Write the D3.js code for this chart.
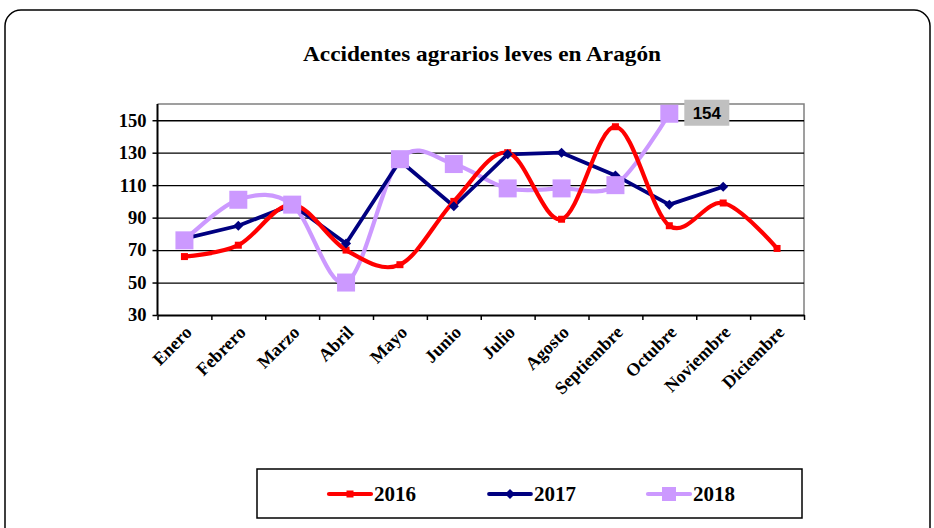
<!DOCTYPE html>
<html>
<head>
<meta charset="utf-8">
<script src="https://cdn.jsdelivr.net/npm/d3@7/dist/d3.min.js"></script>
<style>
  html, body { margin: 0; padding: 0; background: #fff; }
  svg { display: block; }
</style>
</head>
<body>
<svg id="chart" width="934" height="528"></svg>
<script>
// Monthly light agricultural accidents in Aragón, 2016–2018
const months = ["Enero", "Febrero", "Marzo", "Abril", "Mayo", "Junio", "Julio",
                "Agosto", "Septiembre", "Octubre", "Noviembre", "Diciembre"];
const values2016 = [66, 73, 98, 70, 61, 100, 130, 89, 146, 85, 99, 71];
const values2017 = [77, 85, 98, 74, 125, 97, 129, 130, 116, 98, 109, null];
const values2018 = [76, 101, 98, 50, 126, 123, 108, 108, 110, 154, null, null];
const yTicks = [30, 50, 70, 90, 110, 130, 150];
const titleText = "Accidentes agrarios leves en Aragón";

const series = [
  { name: "2016", values: values2016, color: "#FF0000", width: 4.2, smooth: true,  marker: "square", size: 7 },
  { name: "2017", values: values2017, color: "#000080", width: 3.8, smooth: false, marker: "diamond", size: 10 },
  { name: "2018", values: values2018, color: "#CC99FF", width: 4.2, smooth: true,  marker: "square", size: 18 }
];

const svg = d3.select("#chart");
const serif = "'Liberation Serif', 'Times New Roman', serif";
const sans = "'Liberation Sans', Arial, sans-serif";

// Outer rounded frame
svg.append("rect")
  .attr("x", 5).attr("y", 10).attr("width", 925).attr("height", 540)
  .attr("rx", 16).attr("ry", 16)
  .attr("fill", "#fff").attr("stroke", "#000").attr("stroke-width", 1.5);

// Title
svg.append("text")
  .attr("x", 482).attr("y", 61)
  .attr("text-anchor", "middle")
  .attr("font-family", serif).attr("font-weight", "bold").attr("font-size", 21)
  .attr("textLength", 358).attr("lengthAdjust", "spacingAndGlyphs")
  .text(titleText);

const plot = { left: 157.5, right: 804, top: 104, bottom: 315 };

const x = d3.scaleBand().domain(months).range([plot.left, plot.right]).padding(0);
const xEdge = d3.scaleLinear().domain([0, months.length]).range([plot.left, plot.right]);
const y = d3.scaleLinear().domain([30, 160]).range([plot.bottom, plot.top]);
const cx = m => x(m) + x.bandwidth() / 2;

// Plot area frame (top and right in grey)
svg.append("path")
  .attr("d", `M${plot.left},${plot.top}H${plot.right}V${plot.bottom}`)
  .attr("fill", "none").attr("stroke", "#808080").attr("stroke-width", 1.5);

// Horizontal gridlines
const grid = svg.append("g").attr("transform", `translate(${plot.left},0)`)
  .call(d3.axisLeft(y).tickValues(yTicks.filter(t => t > 30))
    .tickSize(-(plot.right - plot.left)).tickFormat(""));
grid.select(".domain").remove();
grid.selectAll(".tick line").attr("stroke", "#000").attr("stroke-width", 1.3);

// Y axis
const yAxis = svg.append("g").attr("transform", `translate(${plot.left},0)`)
  .call(d3.axisLeft(y).tickValues(yTicks).tickSize(5).tickPadding(6).tickSizeOuter(0));
yAxis.select(".domain").attr("stroke", "#000").attr("stroke-width", 2)
  .attr("d", `M0,${plot.top}V${plot.bottom}`);
yAxis.selectAll(".tick line").attr("stroke", "#000").attr("stroke-width", 1.5);
yAxis.selectAll(".tick text")
  .attr("font-family", serif).attr("font-weight", "bold").attr("font-size", 18.5)
  .attr("fill", "#000");

// X axis: ticks at category boundaries
const xAxis = svg.append("g").attr("transform", `translate(0,${plot.bottom})`)
  .call(d3.axisBottom(xEdge).tickValues(d3.range(0, months.length + 1))
    .tickSize(5).tickSizeOuter(0).tickFormat(""));
xAxis.select(".domain").attr("stroke", "#000").attr("stroke-width", 2);
xAxis.selectAll(".tick line").attr("stroke", "#000").attr("stroke-width", 1.5);

// Category labels, rotated
svg.append("g").selectAll("text").data(months).join("text")
  .attr("transform", d => `translate(${cx(d) + 4},${plot.bottom + 14}) rotate(-45)`)
  .attr("text-anchor", "end")
  .attr("dy", "0.35em")
  .attr("font-family", serif).attr("font-weight", "bold").attr("font-size", 18)
  .text(d => d);

// Series lines (drawn last series first so earlier series sit on top)
const lineFor = s => d3.line()
  .defined(d => d.v != null)
  .x(d => cx(d.m))
  .y(d => y(d.v))
  .curve(s.smooth ? d3.curveCatmullRom.alpha(0) : d3.curveLinear);

const points = s => months.map((m, i) => ({ m, v: s.values[i] })).filter(d => d.v != null);

const linesG = svg.append("g");
[...series].reverse().forEach(s => {
  linesG.append("path")
    .datum(points(s))
    .attr("d", lineFor(s))
    .attr("fill", "none")
    .attr("stroke", s.color)
    .attr("stroke-width", s.width)
    .attr("stroke-linejoin", "round");
});

// Markers
function markerPath(type, size) {
  const h = size / 2;
  if (type === "diamond") return `M0,${-h}L${h},0L0,${h}L${-h},0Z`;
  return `M${-h},${-h}H${h}V${h}H${-h}Z`;
}
const markersG = svg.append("g");
series.forEach(s => {
  markersG.append("g").selectAll("path").data(points(s)).join("path")
    .attr("transform", d => `translate(${cx(d.m)},${y(d.v)})`)
    .attr("d", markerPath(s.marker, s.size))
    .attr("fill", s.color);
});

// Value label on the October 2018 peak
const peak = { m: "Octubre", v: values2018[months.indexOf("Octubre")] };
const lbl = svg.append("g")
  .attr("transform", `translate(${cx(peak.m) + 15},${y(peak.v) - 1})`);
lbl.append("rect")
  .attr("x", 0).attr("y", -13).attr("width", 45).attr("height", 26)
  .attr("fill", "#C0C0C0");
lbl.append("text")
  .attr("x", 22.5).attr("y", 0).attr("dy", "0.36em")
  .attr("text-anchor", "middle")
  .attr("font-family", sans).attr("font-weight", "bold").attr("font-size", 17)
  .text(peak.v);

// Legend
const legend = svg.append("g");
legend.append("rect")
  .attr("x", 257).attr("y", 469).attr("width", 545).attr("height", 49)
  .attr("fill", "#fff").attr("stroke", "#000").attr("stroke-width", 1.5);
const legendX = [329, 489, 648];
series.forEach((s, i) => {
  const g = legend.append("g").attr("transform", `translate(${legendX[i]},494)`);
  g.append("line").attr("x1", 0).attr("x2", 42).attr("y1", 0).attr("y2", 0)
    .attr("stroke", s.color).attr("stroke-width", s.width).attr("stroke-linecap", "round");
  g.append("path").attr("transform", "translate(21,0)")
    .attr("d", markerPath(s.marker, s.marker === "square" && s.size > 10 ? 14 : s.size))
    .attr("fill", s.color);
  g.append("text").attr("x", 45).attr("y", 0).attr("dy", "0.35em")
    .attr("font-family", serif).attr("font-weight", "bold").attr("font-size", 21)
    .text(s.name);
});
</script>
</body>
</html>
